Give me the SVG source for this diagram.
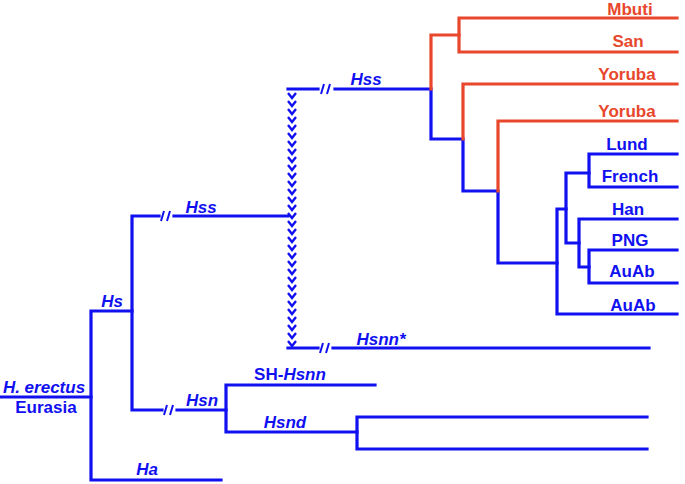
<svg xmlns="http://www.w3.org/2000/svg" width="685" height="484" viewBox="0 0 685 484">
  <style>
    .b { fill: none; stroke: #1010f0; stroke-width: 3.2; stroke-linejoin: miter; stroke-linecap: square; }
    .r { fill: none; stroke: #e8472c; stroke-width: 3.2; stroke-linejoin: miter; stroke-linecap: square; }
    .brk { fill: none; stroke: #1010f0; stroke-width: 2; }
    text { font-family: "Liberation Sans", Arial, sans-serif; font-weight: bold; font-size: 17px; text-anchor: middle; }
    .tb { fill: #1010f0; }
    .tr { fill: #e8472c; }
    .it { font-style: italic; }
  </style>
  <defs>
    <pattern id="chev" x="287" y="92" width="10" height="8" patternUnits="userSpaceOnUse">
      <path d="M1,1 L5,6 L9,1" fill="none" stroke="#1010f0" stroke-width="2.4"/>
    </pattern>
  </defs>

  <g id="connectors">
    <path class="b" d="M0,397 H91"/>
    <path class="b" d="M132,311 H91 V480 H221"/>
    <path class="b" d="M159,216 H132 V410 H162"/>
    <path class="b" d="M174,216 H288"/>
    <path class="b" d="M177,410 H226"/>
    <path class="b" d="M375,385 H226 V432 H357"/>
    <path class="b" d="M647,417 H357 V449 H647"/>
    <path class="b" d="M288,89 H318"/>
    <path class="b" d="M288,348 H318"/>
    <path class="b" d="M333,348 H649"/>
    <rect x="287" y="92" width="10" height="256" fill="url(#chev)"/>
    <path class="b" d="M335,89 H431 V139 H463 V191 H498 V263 H557"/>
    <path class="r" d="M431,89 V35 H459"/>
    <path class="r" d="M677,18 H459 V52 H677"/>
    <path class="r" d="M463,139 V84 H677"/>
    <path class="r" d="M498,191 V121 H677"/>
    <path class="b" d="M566,209 H557 V314 H677"/>
    <path class="b" d="M589,173 H566 V243 H579"/>
    <path class="b" d="M677,154 H589 V187 H677"/>
    <path class="b" d="M677,219 H579 V267 H589"/>
    <path class="b" d="M677,250 H589 V283 H677"/>
    <path class="brk" d="M161,221 L164,211 M167,221 L170,211"/>
    <path class="brk" d="M164,415 L167,405 M170,415 L173,405"/>
    <path class="brk" d="M321,94 L324,84 M327,94 L330,84"/>
    <path class="brk" d="M320,353 L323,343 M326,353 L329,343"/>
  </g>

  <g id="n-erectus"><text class="tb it" x="44" y="393">H. erectus</text><text class="tb" x="46" y="413">Eurasia</text></g>
  <g id="n-hs"><text class="tb it" x="112" y="307">Hs</text></g>
  <g id="n-ha"><text class="tb it" x="147" y="475">Ha</text></g>
  <g id="n-hss1"><text class="tb it" x="201" y="213">Hss</text></g>
  <g id="n-hsn"><text class="tb it" x="202" y="406">Hsn</text></g>
  <g id="n-shhsnn"><text class="tb" x="290" y="380">SH-<tspan class="it">Hsnn</tspan></text></g>
  <g id="n-hsnd"><text class="tb it" x="285" y="428">Hsnd</text></g>
  <g id="n-hsnn"><text class="tb it" x="381" y="345">Hsnn*</text></g>
  <g id="n-hss2"><text class="tb it" x="366" y="85">Hss</text></g>
  <g id="n-mbuti"><text class="tr" x="630" y="15">Mbuti</text></g>
  <g id="n-san"><text class="tr" x="628" y="47">San</text></g>
  <g id="n-yoruba1"><text class="tr" x="627" y="80">Yoruba</text></g>
  <g id="n-yoruba2"><text class="tr" x="627" y="117">Yoruba</text></g>
  <g id="n-lund"><text class="tb" x="627" y="150">Lund</text></g>
  <g id="n-french"><text class="tb" x="630" y="182">French</text></g>
  <g id="n-han"><text class="tb" x="628" y="215">Han</text></g>
  <g id="n-png"><text class="tb" x="630" y="246">PNG</text></g>
  <g id="n-auab1"><text class="tb" x="632" y="277">AuAb</text></g>
  <g id="n-auab2"><text class="tb" x="633" y="311">AuAb</text></g>
</svg>
